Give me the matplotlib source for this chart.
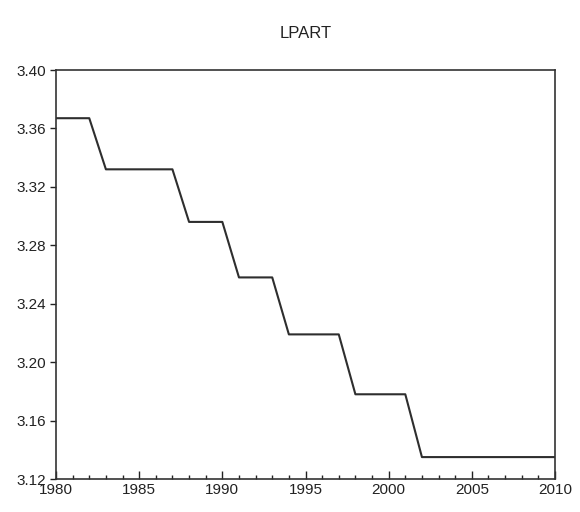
import matplotlib
matplotlib.use("Agg")
import matplotlib.pyplot as plt
from matplotlib.ticker import MultipleLocator

plt.rcParams['font.family'] = ['Liberation Sans', 'DejaVu Sans']

years = list(range(1980, 2011))
lpart = ([3.367] * 3 + [3.332] * 5 + [3.296] * 3 + [3.258] * 3 +
         [3.219] * 4 + [3.178] * 4 + [3.135] * 9)
title = "LPART"
yticks = [3.12, 3.16, 3.20, 3.24, 3.28, 3.32, 3.36, 3.40]
xticks = [1980, 1985, 1990, 1995, 2000, 2005, 2010]

fig = plt.figure(figsize=(5.8, 5.12), dpi=100)
ax = fig.add_axes([56/580, 33/512, 499/580, 409/512])
ax.plot(years, lpart, color='#2e2e2e', lw=1.5)
ax.set_xlim(1980, 2010)
ax.set_ylim(3.12, 3.40)
ax.set_yticks(yticks)
ax.set_yticklabels([f"{v:.2f}" for v in yticks])
ax.set_xticks(xticks)
ax.xaxis.set_minor_locator(MultipleLocator(1))
ax.tick_params(axis='x', direction='in', length=6, width=1, labelsize=11, pad=3, colors='#222222')
ax.tick_params(axis='x', which='minor', direction='in', length=3, width=1, colors='#222222')
ax.tick_params(axis='y', direction='out', length=4, width=1, labelsize=11, pad=3, colors='#222222')
for s in ax.spines.values():
    s.set_color('#333333')
    s.set_linewidth(1.2)
ax.set_title(title, fontsize=12, pad=23, color='#222222')
fig.savefig("out.png", dpi=100)
